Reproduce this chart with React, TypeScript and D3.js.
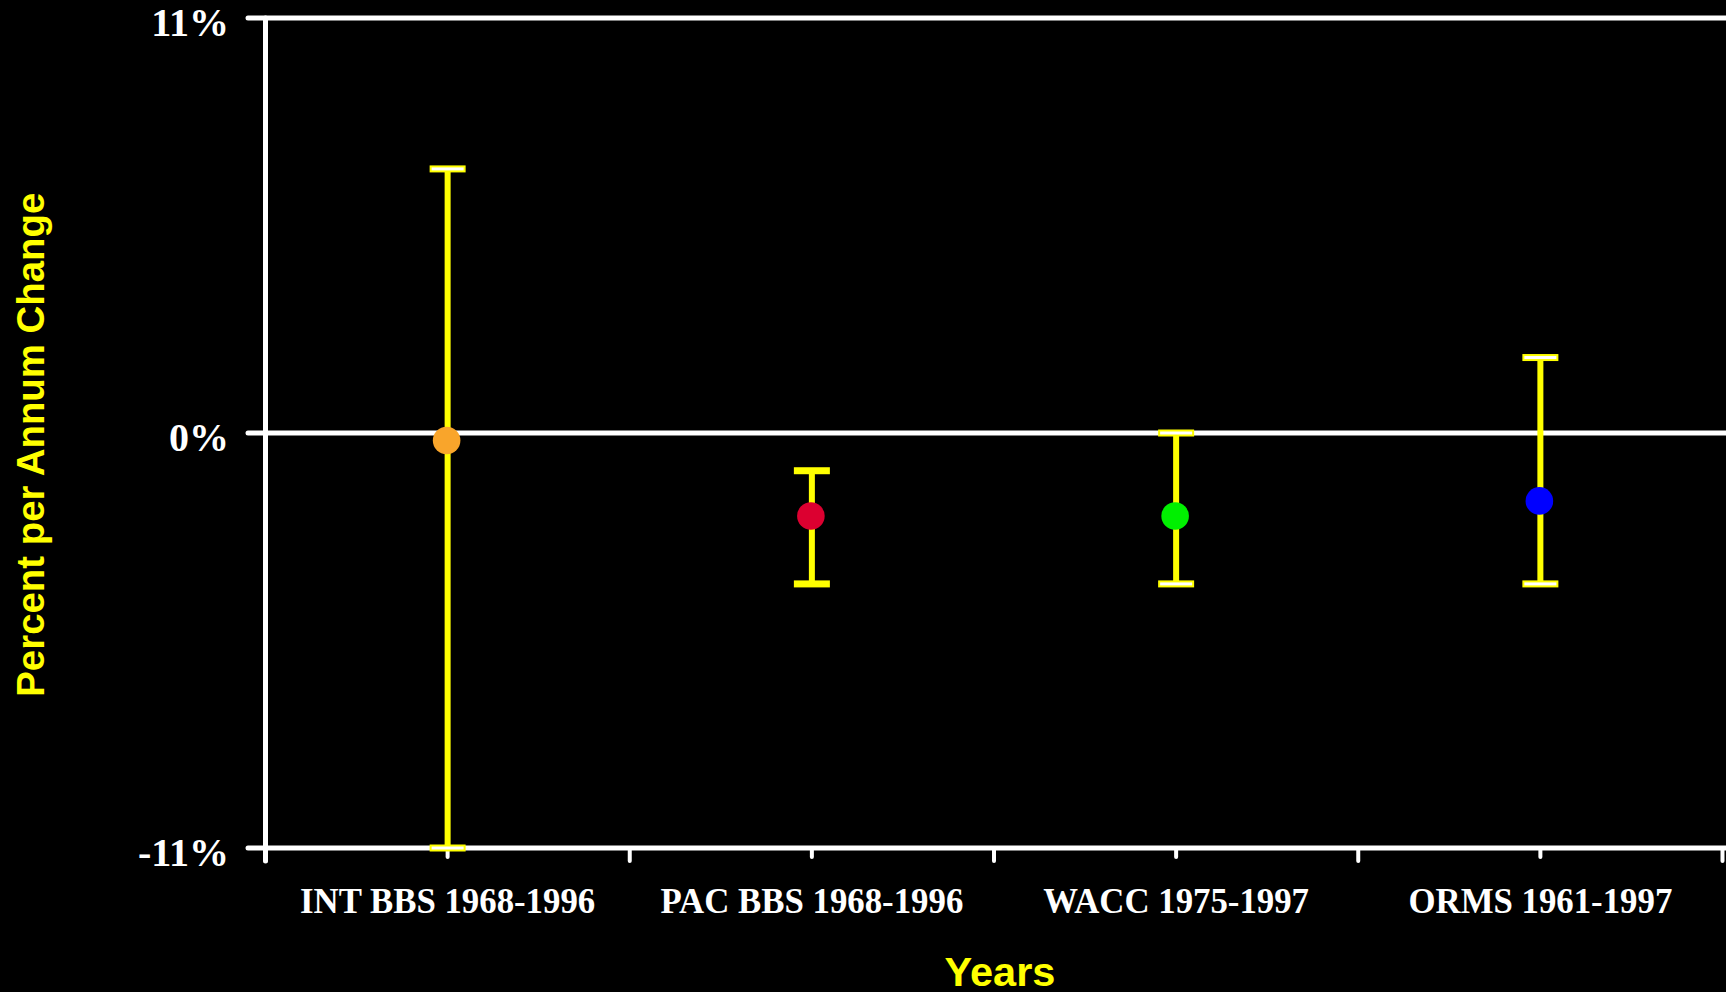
import React from "react";
import * as d3 from "d3";

const categories = ["INT BBS 1968-1996", "PAC BBS 1968-1996", "WACC 1975-1997", "ORMS 1961-1997"];
const means = [-0.2, -2.2, -2.2, -1.8];
const lowers = [-11, -4.0, -4.0, -4.0];
const uppers = [7.0, -1.0, 0.0, 2.0];
const pointColors = ["#F9A52B", "#DC0030", "#00F000", "#0000FF"];
const capFills = ["#FFFFFF", "#FFFF00", "#FFFFFF", "#FFFFFF"];
const yTicks = [-11, 0, 11];
const yTickLabels = ["-11%", "0%", "11%"];

const W = 1726;
const H = 992;
const LEFT = 265.5;
const RIGHT = 1722.5;
const TOP = 18;
const BOTTOM = 848;

export default function App() {
  const y = d3.scaleLinear().domain([-11, 11]).range([BOTTOM, TOP]);
  const x = d3.scaleBand().domain(categories).range([LEFT, RIGHT]).padding(0);
  const bw = x.bandwidth();
  const cx = (c: string) => (x(c) as number) + bw / 2;
  const boundaries = [...categories.map((c) => x(c) as number), RIGHT];

  const serif = "'Liberation Serif', 'Times New Roman', serif";
  const sans = "'Liberation Sans', Arial, sans-serif";
  const yellow = "#FFFF00";

  return (
    <svg
      width={W}
      height={H}
      style={{ position: "absolute", left: 0, top: 0, display: "block", background: "#000" }}
    >
      <rect x={0} y={0} width={W} height={H} fill="#000" />
      {yTicks.map((t) => (
        <line
          key={"h" + t}
          x1={248}
          x2={W + 5}
          y1={y(t)}
          y2={y(t)}
          stroke="#fff"
          strokeWidth={5}
          strokeLinecap="round"
        />
      ))}
      <line x1={LEFT} x2={LEFT} y1={TOP} y2={861} stroke="#fff" strokeWidth={5} strokeLinecap="round" />
      {boundaries.map((b, i) => (
        <line key={"b" + i} x1={b} x2={b} y1={BOTTOM} y2={861} stroke="#fff" strokeWidth={4} strokeLinecap="round" />
      ))}
      {categories.map((c) => (
        <line key={"m" + c} x1={cx(c)} x2={cx(c)} y1={BOTTOM} y2={857} stroke="#fff" strokeWidth={4} strokeLinecap="round" />
      ))}
      {yTicks.map((t, i) => (
        <text
          key={"yl" + t}
          x={229}
          y={y(t) + 18}
          textAnchor="end"
          fill="#fff"
          fontFamily={serif}
          fontWeight="bold"
          fontSize={40}
        >
          {yTickLabels[i]}
        </text>
      ))}
      {categories.map((c) => (
        <text
          key={"cl" + c}
          x={cx(c)}
          y={913}
          textAnchor="middle"
          fill="#fff"
          fontFamily={serif}
          fontWeight="bold"
          fontSize={34.8}
        >
          {c}
        </text>
      ))}
      {categories.map((c, i) => {
        const xc = cx(c);
        return (
          <g key={"eb" + c}>
            <line x1={xc} x2={xc} y1={y(uppers[i])} y2={y(lowers[i])} stroke={yellow} strokeWidth={6} />
            {[uppers[i], lowers[i]].map((v, j) => (
              <rect
                key={j}
                x={xc - 17}
                y={y(v) - 2.5}
                width={34}
                height={5}
                fill={capFills[i]}
                stroke={yellow}
                strokeWidth={2}
              />
            ))}
          </g>
        );
      })}
      {categories.map((c, i) => (
        <circle key={"pt" + c} cx={cx(c) - 1} cy={y(means[i])} r={13.8} fill={pointColors[i]} />
      ))}
      <text
        transform={`translate(44, 444.7) rotate(-90)`}
        textAnchor="middle"
        fill={yellow}
        fontFamily={sans}
        fontWeight="bold"
        fontSize={38.4}
      >
        Percent per Annum Change
      </text>
      <text x={1000} y={986} textAnchor="middle" fill={yellow} fontFamily={sans} fontWeight="bold" fontSize={41.5}>
        Years
      </text>
    </svg>
  );
}
